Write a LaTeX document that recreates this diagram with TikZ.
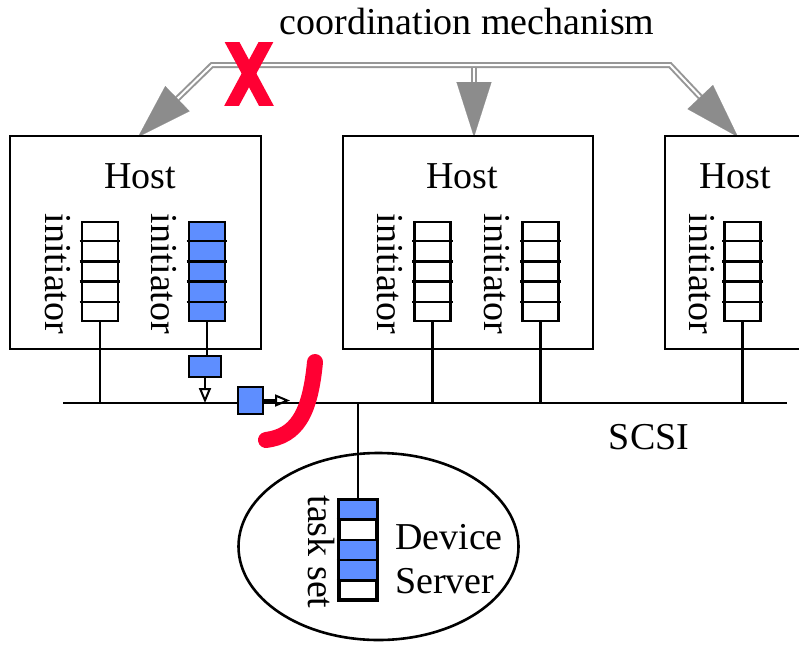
\documentclass[tikz,border=0pt]{standalone}
\usepackage{fontspec}
\setmainfont{Liberation Serif}
\usetikzlibrary{shapes.geometric,arrows.meta,calc}
\definecolor{qblue}{RGB}{94,142,255}
\definecolor{xred}{RGB}{255,0,51}
\definecolor{lgray}{RGB}{150,150,150}
\definecolor{tgray}{RGB}{140,140,140}
\begin{document}
\begin{tikzpicture}[x=1pt,y=-1pt,
  lbl/.style={font=\fontsize{38}{41}\selectfont, inner sep=0pt},
  vlbl/.style={lbl, rotate=-90},
  hostbox/.style={draw, line width=2.6pt, inner sep=0pt, minimum height=213pt},
  queue/.style={draw, line width=2.6pt, inner sep=0pt, minimum width=36pt, minimum height=99pt},
  bluequeue/.style={queue, fill=qblue},
  packet/.style={draw, line width=2.6pt, inner sep=0pt, fill=qblue},
  wire/.style={line width=2.6pt},
  pktarrow/.style={line width=2.6pt, -{Triangle[open,length=15pt,width=12pt,line width=2pt]}},
  dbl/.style={draw=lgray, line width=2pt, double=white, double distance=2pt, line join=miter},
  gtip/.style={draw=tgray, fill=tgray, line width=0.1pt, -{Triangle[length=55pt,width=35pt,fill=tgray]}},
  redmark/.style={draw=xred, line width=16pt, line cap=round}
]
\useasboundingbox (0,0) rectangle (799,651);

% coordination mechanism
\node[lbl] (coord) at (467,21) {coordination mechanism};
\coordinate (jA) at (212,65);
\coordinate (jC) at (670,65);
\coordinate (jB) at (474,68);
\coordinate (bA) at (177.4,98.7);
\coordinate (bB) at (474,82);
\coordinate (bC) at (700.2,97);
\coordinate (tA) at (138,137);
\coordinate (tB) at (474,137);
\coordinate (tC) at (738,137);
\draw[dbl] (bA) -- (jA) -- (jC) -- (bC);
\draw[dbl] (jB) -- (bB);
\draw[gtip] (bA) -- (tA);
\draw[gtip] (bB) -- (tB);
\draw[gtip] (bC) -- (tC);

% red X
\begin{scope}
  \clip (215,42) rectangle (285,105);
  \draw[draw=xred, line width=13pt] (228.8,36) -- (269.2,111);
  \draw[draw=xred, line width=13pt] (269.2,36) -- (228.8,111);
\end{scope}

% hosts
\node[hostbox, minimum width=251pt] (hostA) at (135.5,242.5) {};
\node[hostbox, minimum width=250pt] (hostB) at (468,242.5) {};
\node[hostbox, minimum width=160pt] (hostC) at (745,242.5) {};
\node[lbl] (hA) at (140,176) {Host};
\node[lbl] (hB) at (462,176) {Host};
\node[lbl] (hC) at (735,176) {Host};

% queues
\node[queue] (qA1) at (100,271.5) {};
\node[bluequeue] (qA2) at (207,271.5) {};
\node[queue] (qB1) at (432.5,271.5) {};
\node[queue] (qB2) at (540.5,271.5) {};
\node[queue] (qC1) at (742.5,271.5) {};
\foreach \q in {qA1,qA2,qB1,qB2,qC1}{
  \foreach \i in {1,...,4}{
    \draw[wire] ($(\q.north west)!\i/5!(\q.south west)+(-1,0)$) -- ($(\q.north east)!\i/5!(\q.south east)+(1,0)$);
  }
}
\node[vlbl] (iA1) at (58,274) {initiator};
\node[vlbl] (iA2) at (164,274) {initiator};
\node[vlbl] (iB1) at (390,274) {initiator};
\node[vlbl] (iB2) at (497,274) {initiator};
\node[vlbl] (iC1) at (702,274) {initiator};

% SCSI bus
\coordinate (busL) at (63,403);
\coordinate (busR) at (787,403);
\draw[wire] (busL) -- (busR);
\node[lbl] (scsi) at (649,437) {SCSI};
\draw[wire] (qA1.south) -- (qA1.south |- busL);
\draw[wire] (qB1.south) -- (qB1.south |- busL);
\draw[wire] (qB2.south) -- (qB2.south |- busL);
\draw[wire] (qC1.south) -- (qC1.south |- busL);

% packets
\node[packet, minimum width=32pt, minimum height=21pt] (pk1) at (205,366.5) {};
\node[packet, minimum width=25pt, minimum height=27pt] (pk2) at (250.5,400.5) {};
\draw[wire] (qA2.south) -- (qA2.south |- pk1.north);
\draw[pktarrow] (pk1.south) -- (pk1.south |- busL);
\coordinate (pk2end) at (290,400.5);
\draw[pktarrow] (pk2.east) -- (pk2end);

% red mark
\draw[redmark] (315,362) .. controls (310,415) and (296,436) .. (266,440);

% device server
\node[draw, ellipse, line width=2.6pt, inner sep=0pt, minimum width=280pt, minimum height=187pt] (ds) at (378.5,546.5) {};
\node[queue] (ts) at (358,550) {};
\fill[qblue] (ts.north west) rectangle ($(ts.north east)!0.2!(ts.south east)$);
\fill[qblue] ($(ts.north west)!0.4!(ts.south west)$) rectangle ($(ts.north east)!0.8!(ts.south east)$);
\draw[wire] (ts.north west) rectangle (ts.south east);
\foreach \i in {1,...,4}{
  \draw[wire] ($(ts.north west)!\i/5!(ts.south west)+(-2,0)$) -- ($(ts.north east)!\i/5!(ts.south east)+(1,0)$);
}
\draw[wire] (ts.north |- busL) -- (ts.north);
\node[vlbl] (tsl) at (321,552) {task set};
\node[lbl, anchor=west] (dev) at (395,537) {Device};
\node[lbl, anchor=west] (srv) at (395,581) {Server};
\end{tikzpicture}
\end{document}
